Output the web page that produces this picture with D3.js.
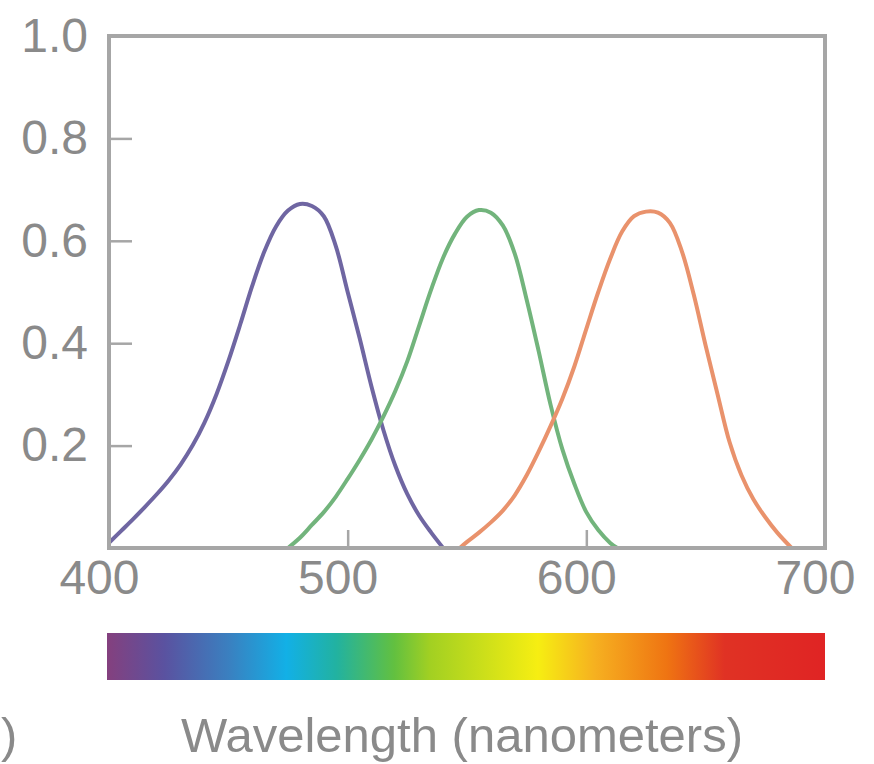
<!DOCTYPE html>
<html>
<head>
<meta charset="utf-8">
<script src="https://cdn.jsdelivr.net/npm/d3@7"></script>
<style>
  html, body { margin: 0; padding: 0; background: #ffffff; }
  svg { display: block; }
  text { font-family: "Liberation Sans", Arial, Helvetica, sans-serif; }
</style>
</head>
<body>
<svg id="chart" width="874" height="764"></svg>
<script>
// ---- data ----
const xTicks = [400, 500, 600, 700];
const yTicks = [0.2, 0.4, 0.6, 0.8, 1.0];

const blueNm   = [400, 405, 410, 415, 420, 425, 430, 435, 440, 445, 450, 455, 460, 465, 470, 475, 480, 485, 490, 495, 500, 505, 510, 515, 520, 525, 530, 535, 540];
const blueVal  = [0.01, 0.033, 0.056, 0.08, 0.105, 0.132, 0.163, 0.2, 0.245, 0.3, 0.365, 0.437, 0.512, 0.578, 0.628, 0.659, 0.672, 0.668, 0.648, 0.59, 0.5, 0.41, 0.315, 0.23, 0.16, 0.105, 0.063, 0.03, 0];

const greenNm  = [475, 480, 485, 490, 495, 500, 505, 510, 515, 520, 525, 530, 535, 540, 545, 550, 555, 560, 565, 570, 575, 580, 585, 590, 595, 600, 605, 610, 613];
const greenVal = [0, 0.02, 0.045, 0.07, 0.1, 0.135, 0.172, 0.212, 0.257, 0.307, 0.365, 0.435, 0.505, 0.567, 0.614, 0.647, 0.66, 0.655, 0.63, 0.575, 0.485, 0.385, 0.28, 0.192, 0.125, 0.07, 0.035, 0.01, 0];

const redNm    = [547, 550, 555, 560, 565, 570, 575, 580, 585, 590, 595, 600, 605, 610, 615, 620, 625, 630, 635, 640, 645, 650, 655, 660, 665, 670, 675, 680, 686];
const redVal   = [0, 0.012, 0.03, 0.05, 0.073, 0.103, 0.142, 0.188, 0.238, 0.292, 0.355, 0.428, 0.5, 0.565, 0.618, 0.648, 0.657, 0.655, 0.635, 0.58, 0.495, 0.395, 0.3, 0.207, 0.142, 0.095, 0.06, 0.03, 0];

const spectrumStops = [0, 0.08, 0.17, 0.25, 0.32, 0.40, 0.45, 0.60, 0.68, 0.78, 0.86, 1];
const spectrumColors = ["#84407e", "#5a52a0", "#3a80c0", "#12b0e6", "#22b2a0", "#62c040", "#a2d022", "#f6ee12", "#f6b020", "#ef7412", "#e03224", "#e02424"];

const xTitle = "Wavelength (nanometers)";

// ---- drawing ----
const svg = d3.select("#chart");
const x = d3.scaleLinear().domain([400, 700]).range([109, 825]);
const y = d3.scaleLinear().domain([0, 1]).range([548, 36]);

const frameColor = "#a6a6a6";
const textColor = "#8a8a8a";

const defs = svg.append("defs");
defs.append("clipPath").attr("id", "plotclip")
  .append("rect")
  .attr("x", x(400)).attr("y", y(1))
  .attr("width", x(700) - x(400)).attr("height", y(0) - y(1));

// axes
const yAxis = d3.axisLeft(y).tickValues(yTicks).tickSize(-23).tickPadding(21).tickFormat(d3.format(".1f"));
const gy = svg.append("g").attr("transform", `translate(${x(400)},0)`).call(yAxis);
gy.select(".domain").remove();
gy.selectAll(".tick line").attr("stroke", frameColor).attr("stroke-width", 2.5);
gy.selectAll(".tick text").attr("fill", textColor).style("font-size", "48px");

const xAxis = d3.axisBottom(x).tickValues(xTicks).tickSize(-18).tickPadding(12).tickFormat(d3.format("d"));
const gx = svg.append("g").attr("transform", `translate(0,${y(0)})`).call(xAxis);
gx.select(".domain").remove();
gx.selectAll(".tick line").attr("stroke", frameColor).attr("stroke-width", 2.5);
gx.selectAll(".tick text").attr("fill", textColor).attr("dx", "-0.21em").style("font-size", "48px");

// curves
const line = d3.line().x(d => x(d[0])).y(d => y(d[1])).curve(d3.curveCatmullRom.alpha(0.5));
const series = [
  { nm: blueNm, val: blueVal, color: "#6f66a2" },
  { nm: greenNm, val: greenVal, color: "#72b47c" },
  { nm: redNm, val: redVal, color: "#e9926c" }
];
const gc = svg.append("g").attr("clip-path", "url(#plotclip)");
series.forEach(s => {
  gc.append("path")
    .datum(d3.zip(s.nm, s.val))
    .attr("d", line)
    .attr("fill", "none")
    .attr("stroke", s.color)
    .attr("stroke-width", 4)
    .attr("stroke-linejoin", "round");
});

// frame
svg.append("rect")
  .attr("x", x(400)).attr("y", y(1))
  .attr("width", x(700) - x(400)).attr("height", y(0) - y(1))
  .attr("fill", "none").attr("stroke", frameColor).attr("stroke-width", 4);

// spectrum bar
const grad = defs.append("linearGradient").attr("id", "spec").attr("x1", "0%").attr("x2", "100%");
spectrumStops.forEach((s, i) => grad.append("stop").attr("offset", s).attr("stop-color", spectrumColors[i]));
svg.append("rect")
  .attr("x", x(400) - 2).attr("y", 633)
  .attr("width", x(700) - x(400) + 2).attr("height", 47)
  .attr("fill", "url(#spec)");

// axis title
svg.append("text")
  .attr("x", 462).attr("y", 752)
  .attr("text-anchor", "middle")
  .attr("fill", textColor)
  .style("font-size", "49px")
  .text(xTitle);

// fragment on the left edge
svg.append("text")
  .attr("x", 1).attr("y", 752)
  .attr("fill", textColor)
  .style("font-size", "49px")
  .text(")");
</script>
</body>
</html>
